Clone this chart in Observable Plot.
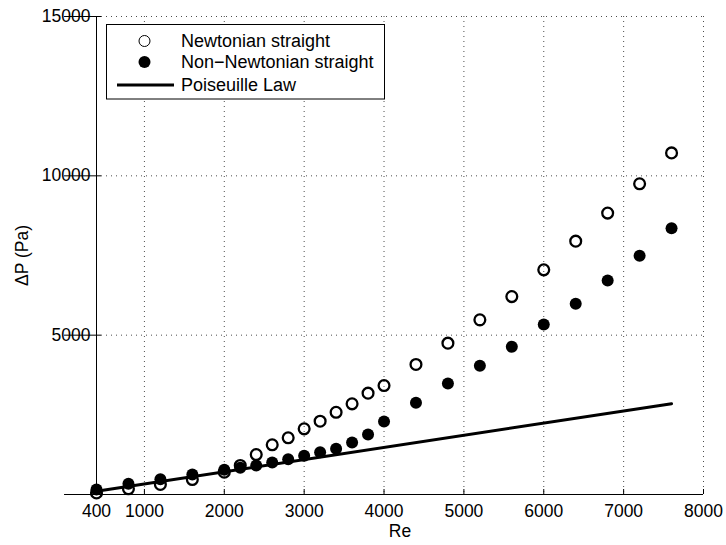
<!DOCTYPE html>
<html>
<head>
<meta charset="utf-8">
<script src="https://cdn.jsdelivr.net/npm/d3@7"></script>
<script src="https://cdn.jsdelivr.net/npm/@observablehq/plot@0.6"></script>
<style>
  html, body { margin: 0; padding: 0; background: #fff; }
  #chart svg { display: block; }
</style>
</head>
<body>
<div id="chart"></div>
<script>
// Reynolds numbers
const re = [400, 800, 1200, 1600, 2000, 2200, 2400, 2600, 2800, 3000, 3200, 3400, 3600, 3800, 4000, 4400, 4800, 5200, 5600, 6000, 6400, 6800, 7200, 7600];
// Newtonian straight, ΔP (Pa)
const newtonian = [50, 180, 315, 470, 700, 910, 1255, 1560, 1780, 2060, 2300, 2580, 2845, 3180, 3420, 4080, 4750, 5480, 6210, 7050, 7950, 8830, 9750, 10720];
// Non-Newtonian straight, ΔP (Pa)
const nonNewtonian = [157, 336, 480, 628, 775, 838, 910, 1004, 1108, 1215, 1328, 1434, 1632, 1883, 2290, 2878, 3483, 4039, 4635, 5335, 5984, 6715, 7490, 8357];
// Poiseuille law line
const poiseuilleRe = [400, 7600];
const poiseuilleDP = [100, 2850];

const xTicks = [400, 1000, 2000, 3000, 4000, 5000, 6000, 7000, 8000];
const xGrid = [1000, 2000, 3000, 4000, 5000, 6000, 7000, 8000];
const yTicks = [5000, 10000, 15000];
const yTickMarks = [0, 5000, 10000, 15000];
const legendLabels = ["Newtonian straight", "Non\u2212Newtonian straight", "Poiseuille Law"];

const newtData = re.map((r, i) => ({re: r, dp: newtonian[i]}));
const nonNewtData = re.map((r, i) => ({re: r, dp: nonNewtonian[i]}));
const poisData = poiseuilleRe.map((r, i) => ({re: r, dp: poiseuilleDP[i]}));

const FONT = "'Liberation Sans', Arial, Helvetica, sans-serif";

const chart = Plot.plot({
  width: 726,
  height: 545,
  marginLeft: 96,
  marginRight: 23,
  marginTop: 16,
  marginBottom: 51,
  style: {fontFamily: FONT, fontSize: "17.5px", background: "#fff", color: "#000"},
  x: {domain: [400, 8000]},
  y: {domain: [0, 15000]},
  marks: [
    // dotted grid
    Plot.ruleX(xGrid, {x: d => d, stroke: "#000", strokeOpacity: 0.7, strokeWidth: 1, strokeDasharray: "1,4"}),
    Plot.ruleY(yTicks, {y: d => d, stroke: "#000", strokeOpacity: 0.7, strokeWidth: 1, strokeDasharray: "1,4"}),
    // axis lines
    Plot.ruleX([400], {x: d => d, stroke: "#000", strokeWidth: 1}),
    Plot.ruleY([0], {y: d => d, stroke: "#000", strokeWidth: 1}),
    // inward tick marks
    Plot.ruleX(xTicks, {x: d => d, y: 0, insetTop: -5, stroke: "#000", strokeWidth: 1}),
    Plot.ruleY(yTickMarks, {y: d => d, x: 400, insetRight: -5, stroke: "#000", strokeWidth: 1}),
    // tick labels
    Plot.axisX({ticks: xTicks, tickSize: 0, tickPadding: 10, tickFormat: d => String(d), label: null, fontSize: 17.5}),
    Plot.axisY({ticks: yTicks, tickSize: 0, tickPadding: 6, tickFormat: d => String(d), label: null, fontSize: 17.5}),
    // axis titles
    Plot.text(["Re"], {text: d => d, frameAnchor: "bottom", lineAnchor: "middle", textAnchor: "middle", dy: 37, fontSize: 17.5}),
    Plot.text(["\u0394P (Pa)"], {text: d => d, frameAnchor: "left", lineAnchor: "middle", textAnchor: "middle", dx: -74, rotate: -90, fontSize: 17.5}),
    // data
    Plot.dot(newtData, {x: "re", y: "dp", r: 5.4, stroke: "#000", strokeWidth: 2.3, fill: "none"}),
    Plot.dot(nonNewtData, {x: "re", y: "dp", r: 6, fill: "#000", stroke: "none"}),
    Plot.line(poisData, {x: "re", y: "dp", stroke: "#000", strokeWidth: 3})
  ]
});

document.getElementById("chart").appendChild(chart);

// legend
const svg = d3.select(chart);
const lg = svg.append("g").attr("font-family", FONT).attr("font-size", 18).attr("text-anchor", "start");
lg.append("rect").attr("x", 106.5).attr("y", 24.5).attr("width", 278).attr("height", 74.5)
  .attr("fill", "#fff").attr("stroke", "#000").attr("stroke-width", 1);
const rowsY = [41, 62, 85];
lg.append("circle").attr("cx", 144.5).attr("cy", rowsY[0]).attr("r", 5.5).attr("fill", "#fff").attr("stroke", "#000").attr("stroke-width", 1);
lg.append("circle").attr("cx", 144.5).attr("cy", rowsY[1]).attr("r", 6).attr("fill", "#000");
lg.append("line").attr("x1", 117).attr("x2", 174).attr("y1", rowsY[2]).attr("y2", rowsY[2]).attr("stroke", "#000").attr("stroke-width", 3);
legendLabels.forEach((t, i) => {
  lg.append("text").attr("x", 181).attr("y", rowsY[i]).attr("dy", "0.35em").attr("text-anchor", "start").text(t);
});
</script>
</body>
</html>
